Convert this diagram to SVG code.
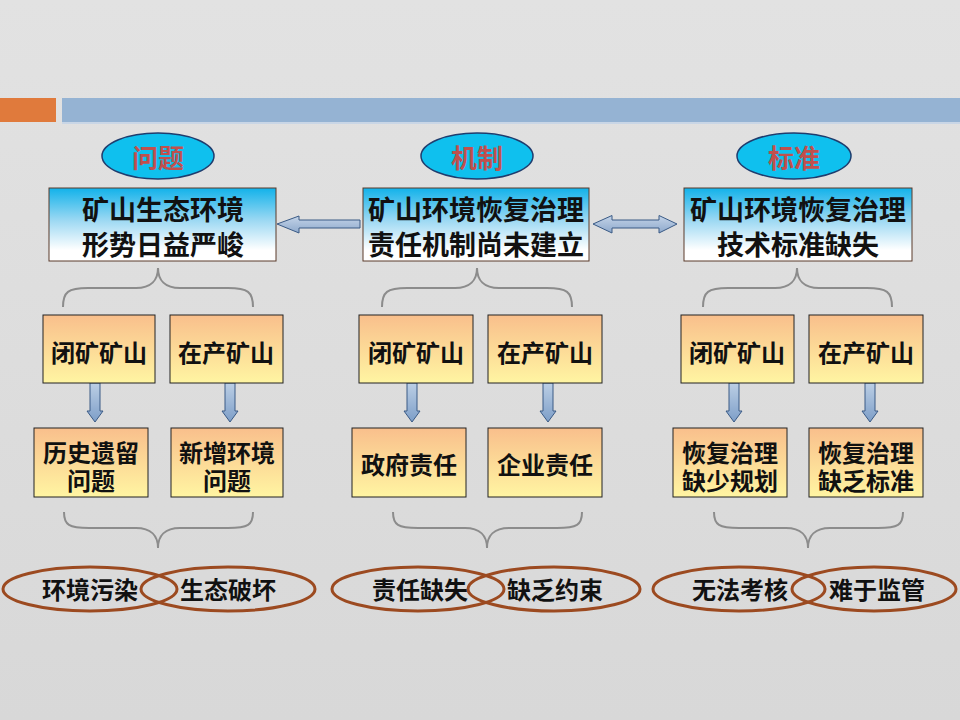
<svg xmlns="http://www.w3.org/2000/svg" width="960" height="720" viewBox="0 0 960 720">
<defs>
<linearGradient id="bg" x1="0" y1="0" x2="0" y2="1"><stop offset="0" stop-color="#e2e2e2"/><stop offset="1" stop-color="#d8d8d8"/></linearGradient>
<linearGradient id="cyan" x1="0" y1="0" x2="0" y2="1"><stop offset="0" stop-color="#12b2ea"/><stop offset="0.45" stop-color="#9ed9f3"/><stop offset="0.85" stop-color="#ffffff"/><stop offset="1" stop-color="#ffffff"/></linearGradient>
<linearGradient id="orange" x1="0" y1="0" x2="0" y2="1"><stop offset="0" stop-color="#f9bf8c"/><stop offset="1" stop-color="#fff5a2"/></linearGradient>
<linearGradient id="arrowV" x1="0" y1="0" x2="0" y2="1"><stop offset="0" stop-color="#bccfe5"/><stop offset="1" stop-color="#7d9ec8"/></linearGradient>
<linearGradient id="arrowH" x1="0" y1="0" x2="0" y2="1"><stop offset="0" stop-color="#c4d4e8"/><stop offset="1" stop-color="#8ea9cc"/></linearGradient>
</defs>
<style>
.title{fill:#0fc0ee;stroke:#1f3d6e;stroke-width:1.5}
.ttext{font-family:"Noto Sans CJK SC","Noto Sans CJK TC",sans-serif;font-size:26px;font-weight:bold;fill:#c0504d;text-anchor:middle;dominant-baseline:central}
.topbox{fill:url(#cyan);stroke:#5a3a2a;stroke-width:1}
.tbtext{font-family:"Noto Sans CJK SC",sans-serif;font-size:27px;font-weight:bold;fill:#111;text-anchor:middle;dominant-baseline:central}
.obox{fill:url(#orange);stroke:#222;stroke-width:1}
.otext{font-family:"Noto Sans CJK SC",sans-serif;font-size:24px;font-weight:bold;fill:#111;text-anchor:middle;dominant-baseline:central}
.ring{fill:none;stroke:#9c4a20;stroke-width:3}
.brace{fill:none;stroke:#8c8c8c;stroke-width:2}
.arrV{fill:url(#arrowV);stroke:#3a5a85;stroke-width:1}
.arrH{fill:url(#arrowH);stroke:#3a5a85;stroke-width:1}
</style>
<rect width="960" height="720" fill="url(#bg)"/>
<g id="header">
<rect x="0" y="98" width="56" height="24" fill="#e07a3c"/>
<rect x="62" y="98" width="898" height="24" fill="#95b3d3"/>
<rect x="62" y="122" width="898" height="2" fill="#c9d6e6"/>
</g>

<g id="connectors">
<polygon class="arrH" points="277,224 299,216 299,220 360,220 360,228 299,228 299,233"/>
<polygon class="arrH" points="593,224 612,215.5 612,220 659,220 659,215.5 677,224 659,233 659,228 612,228 612,233"/>
<g>
<polygon class="arrV" points="90,383 100,383 100,411 103,411 95,422 87,411 90,411"/>
<polygon class="arrV" points="225,383 235,383 235,411 238,411 230,422 222,411 225,411"/>
<polygon class="arrV" points="407,383 417,383 417,411 420,411 412,422 404,411 407,411"/>
<polygon class="arrV" points="543,383 553,383 553,411 556,411 548,422 540,411 543,411"/>
<polygon class="arrV" points="729,383 739,383 739,411 742,411 734,422 726,411 729,411"/>
<polygon class="arrV" points="865,383 875,383 875,411 878,411 870,422 862,411 865,411"/>
</g>
<g id="braces">
<path class="brace" d="M63,307 C63,292 68,288 88,288 L136,288 C151,288 158,280 158,268 C158,280 165,288 180,288 L228,288 C248,288 253,292 253,307"/>
<path class="brace" d="M382,307 C382,292 387,288 407,288 L455,288 C470,288 477,280 477,268 C477,280 484,288 499,288 L547,288 C567,288 572,292 572,307"/>
<path class="brace" d="M703,307 C703,292 708,288 728,288 L775,288 C790,288 797,280 797,268 C797,280 804,288 819,288 L867,288 C887,288 892,292 892,307"/>
<path class="brace" d="M64,512 C64,525 69,528 89,528 L136,528 C151,528 158,536 158,548 C158,536 165,528 180,528 L228,528 C248,528 253,525 253,512"/>
<path class="brace" d="M393,512 C393,525 398,528 418,528 L465,528 C480,528 487,536 487,548 C487,536 494,528 509,528 L557,528 C577,528 582,525 582,512"/>
<path class="brace" d="M714,512 C714,525 719,528 739,528 L786,528 C801,528 808,536 808,548 C808,536 815,528 830,528 L878,528 C898,528 903,525 903,512"/>
</g>
</g>

<g id="t1"><ellipse class="title" cx="158" cy="156" rx="56" ry="23"/><text class="ttext" x="158" y="156">问题</text></g>
<g id="t2"><ellipse class="title" cx="477" cy="156" rx="56" ry="23"/><text class="ttext" x="477" y="156">机制</text></g>
<g id="t3"><ellipse class="title" cx="794" cy="156" rx="57" ry="23"/><text class="ttext" x="794" y="156">标准</text></g>

<g id="b1"><rect class="topbox" x="49" y="188" width="227" height="73"/><text class="tbtext" x="163" y="208">矿山生态环境<tspan x="163" dy="35">形势日益严峻</tspan></text></g>
<g id="b2"><rect class="topbox" x="363" y="188" width="226" height="73"/><text class="tbtext" x="476" y="208">矿山环境恢复治理<tspan x="476" dy="35">责任机制尚未建立</tspan></text></g>
<g id="b3"><rect class="topbox" x="684" y="188" width="228" height="73"/><text class="tbtext" x="798" y="208">矿山环境恢复治理<tspan x="798" dy="35">技术标准缺失</tspan></text></g>

<g id="m1a"><rect class="obox" x="43" y="315" width="112" height="68"/><text class="otext" x="99" y="351">闭矿矿山</text></g>
<g id="m1b"><rect class="obox" x="170" y="315" width="113" height="68"/><text class="otext" x="226" y="351">在产矿山</text></g>
<g id="m2a"><rect class="obox" x="359" y="315" width="114" height="68"/><text class="otext" x="416" y="351">闭矿矿山</text></g>
<g id="m2b"><rect class="obox" x="488" y="315" width="114" height="68"/><text class="otext" x="545" y="351">在产矿山</text></g>
<g id="m3a"><rect class="obox" x="681" y="315" width="113" height="68"/><text class="otext" x="737" y="351">闭矿矿山</text></g>
<g id="m3b"><rect class="obox" x="809" y="315" width="114" height="68"/><text class="otext" x="866" y="351">在产矿山</text></g>

<g id="l1a"><rect class="obox" x="34" y="428" width="114" height="69"/><text class="otext" x="91" y="451">历史遗留<tspan x="91" dy="28">问题</tspan></text></g>
<g id="l1b"><rect class="obox" x="171" y="428" width="112" height="69"/><text class="otext" x="227" y="451">新增环境<tspan x="227" dy="28">问题</tspan></text></g>
<g id="l2a"><rect class="obox" x="352" y="428" width="114" height="69"/><text class="otext" x="409" y="463">政府责任</text></g>
<g id="l2b"><rect class="obox" x="488" y="428" width="114" height="69"/><text class="otext" x="545" y="463">企业责任</text></g>
<g id="l3a"><rect class="obox" x="673" y="428" width="114" height="69"/><text class="otext" x="730" y="451">恢复治理<tspan x="730" dy="28">缺少规划</tspan></text></g>
<g id="l3b"><rect class="obox" x="809" y="428" width="114" height="69"/><text class="otext" x="866" y="451">恢复治理<tspan x="866" dy="28">缺乏标准</tspan></text></g>

<g id="e1a"><ellipse class="ring" cx="90" cy="589" rx="87" ry="22"/><text class="otext" x="90" y="588">环境污染</text></g>
<g id="e1b"><ellipse class="ring" cx="228" cy="589" rx="87" ry="22"/><text class="otext" x="228" y="588">生态破坏</text></g>
<g id="e2a"><ellipse class="ring" cx="418" cy="589" rx="86" ry="22"/><text class="otext" x="420" y="588">责任缺失</text></g>
<g id="e2b"><ellipse class="ring" cx="554" cy="589" rx="86" ry="22"/><text class="otext" x="555" y="588">缺乏约束</text></g>
<g id="e3a"><ellipse class="ring" cx="739" cy="589" rx="86" ry="22"/><text class="otext" x="740" y="588">无法考核</text></g>
<g id="e3b"><ellipse class="ring" cx="874" cy="589" rx="82" ry="22"/><text class="otext" x="877" y="588">难于监管</text></g>
</svg>
